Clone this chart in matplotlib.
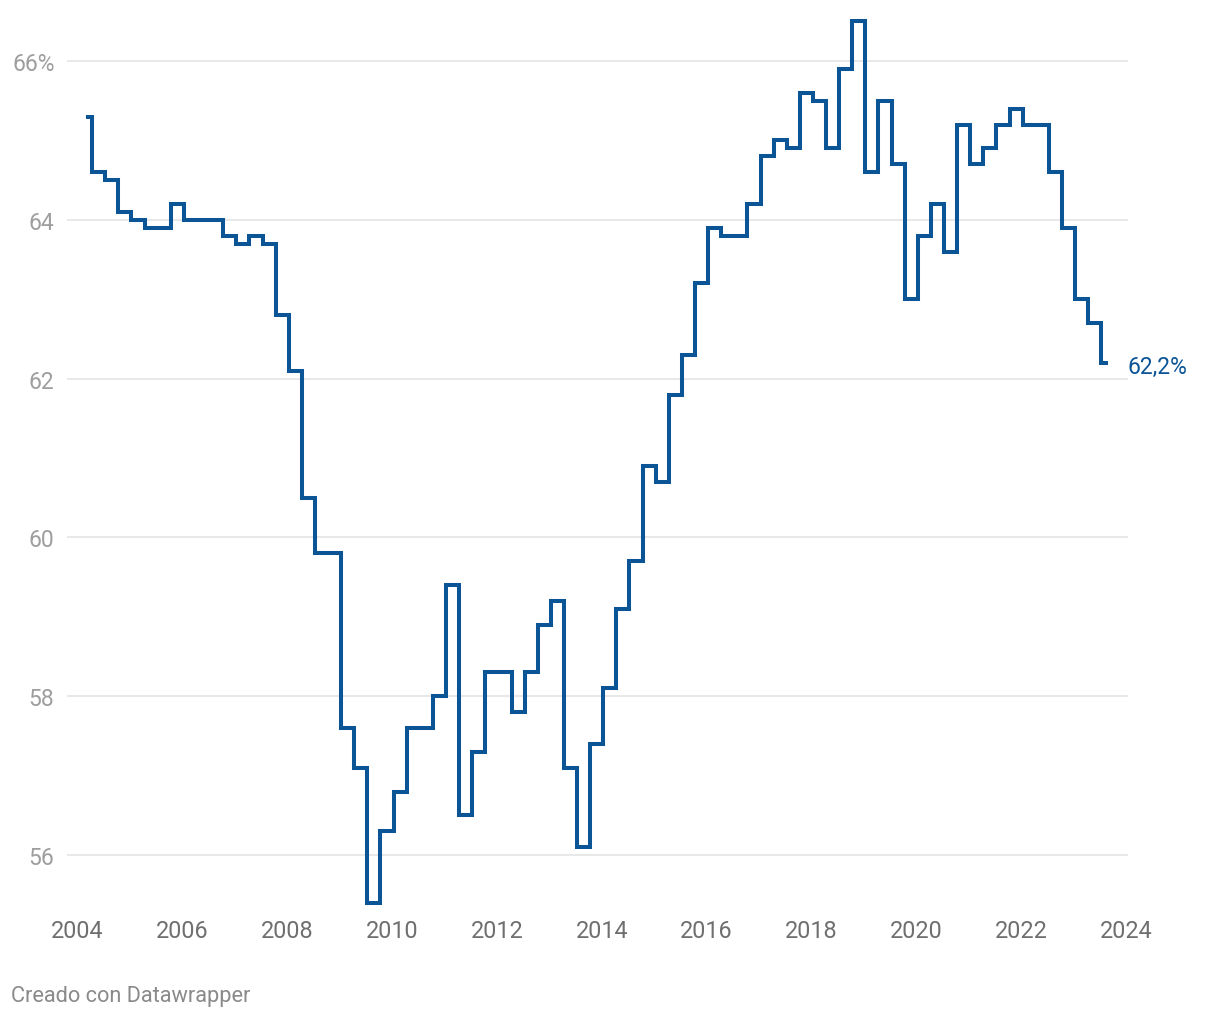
import matplotlib
matplotlib.use("Agg")
import matplotlib.pyplot as plt
import numpy as np

plt.rcParams['font.family'] = ['Roboto', 'DejaVu Sans']

# Quarterly values, 2004 Q1 .. 2023 Q3 (%)
start_year = 2004
values = [
    65.3, 64.6, 64.5, 64.1,   # 2004
    64.0, 63.9, 63.9, 64.2,   # 2005
    64.0, 64.0, 64.0, 63.8,   # 2006
    63.7, 63.8, 63.7, 62.8,   # 2007
    62.1, 60.5, 59.8, 59.8,   # 2008
    57.6, 57.1, 55.4, 56.3,   # 2009
    56.8, 57.6, 57.6, 58.0,   # 2010
    59.4, 56.5, 57.3, 58.3,   # 2011
    58.3, 57.8, 58.3, 58.9,   # 2012
    59.2, 57.1, 56.1, 57.4,   # 2013
    58.1, 59.1, 59.7, 60.9,   # 2014
    60.7, 61.8, 62.3, 63.2,   # 2015
    63.9, 63.8, 63.8, 64.2,   # 2016
    64.8, 65.0, 64.9, 65.6,   # 2017
    65.5, 64.9, 65.9, 66.5,   # 2018
    64.6, 65.5, 64.7, 63.0,   # 2019
    63.8, 64.2, 63.6, 65.2,   # 2020
    64.7, 64.9, 65.2, 65.4,   # 2021
    65.2, 65.2, 64.6, 63.9,   # 2022
    63.0, 62.7, 62.2,         # 2023
]
y_ticks = [56, 58, 60, 62, 64, 66]
y_tick_labels = ['56', '58', '60', '62', '64', '66%']
x_ticks = [2004, 2006, 2008, 2010, 2012, 2014, 2016, 2018, 2020, 2022, 2024]
end_label = '62,2%'
footer = 'Creado con Datawrapper'

# quarter positions (Datawrapper places each quarter near its middle)
x = start_year + 0.155 + 0.25 * np.arange(len(values))

W, H = 1220, 1020
fig = plt.figure(figsize=(W / 100, H / 100), dpi=100)
left, right = 67, 1128
top, bottom = 14.4, 911.6
ax = fig.add_axes([left / W, 1 - bottom / H, (right - left) / W, (bottom - top) / H])

line_color = '#0b5596'
ax.plot(x, values, drawstyle='steps-mid', color=line_color, lw=2.9,
        solid_joinstyle='miter', solid_capstyle='butt', zorder=3)

ax.set_xlim(2003.8, 2024.04)
ax.set_ylim(55.3, 66.6)

ax.set_yticks(y_ticks)
ax.set_yticklabels(y_tick_labels)
ax.set_xticks(x_ticks)
ax.set_xticklabels([str(t) for t in x_ticks])

ax.grid(axis='y', color='#e2e2e2', lw=1.1, zorder=0)
ax.grid(axis='x', visible=False)
for s in ax.spines.values():
    s.set_visible(False)

ax.tick_params(axis='y', length=0, pad=9, labelsize=16.5, labelcolor='#9e9e9e')
ax.tick_params(axis='x', length=0, pad=6, labelsize=16.8, labelcolor='#6f6f6f')

ax.annotate(end_label, xy=(x[-1], values[-1]), xytext=(14.5, -3),
            textcoords='offset points', ha='left', va='center',
            fontsize=16.5, color=line_color, annotation_clip=False)

fig.text(11 / W, 1 - 997 / H, footer, ha='left', va='center',
         fontsize=15.7, color='#8a8a8a')

fig.savefig('out.png', dpi=100, facecolor='white')
